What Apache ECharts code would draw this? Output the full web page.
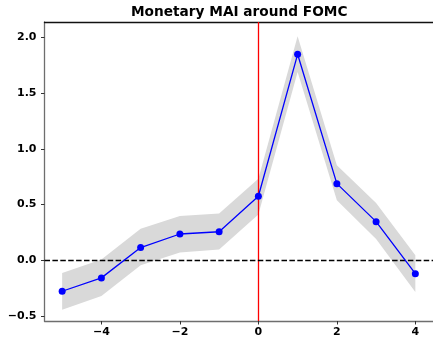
<!DOCTYPE html>
<html>
<head>
<meta charset="utf-8">
<script src="https://cdn.jsdelivr.net/npm/echarts@6/dist/echarts.min.js"></script>
<style>
  html, body { margin: 0; padding: 0; background: #fff; }
  #chart { width: 433px; height: 338px; }
</style>
</head>
<body>
<div id="chart"></div>
<script>
// Event window around the FOMC announcement (days relative to the meeting)
var days = [-5, -4, -3, -2, -1, 0, 1, 2, 3, 4];
// Mean monetary MAI response
var meanMAI = [-0.278, -0.158, 0.114, 0.236, 0.256, 0.575, 1.849, 0.688, 0.347, -0.12];
// Confidence band
var upperBand = [-0.114, 0.006, 0.284, 0.398, 0.419, 0.733, 2.01, 0.853, 0.515, 0.045];
var lowerBand = [-0.443, -0.32, -0.045, 0.069, 0.096, 0.41, 1.69, 0.539, 0.19, -0.285];
var xTicks = [-4, -2, 0, 2, 4];
var yTicks = [-0.5, 0.0, 0.5, 1.0, 1.5, 2.0];

var FONT = 'DejaVu Sans';
function fmtMinus(s) { return String(s).replace('-', '\u2212'); }

var chart = echarts.init(document.getElementById('chart'), null, { renderer: 'canvas' });

var option = {
  animation: false,
  backgroundColor: '#ffffff',
  graphic: [{
    type: 'text', left: 131, top: 5.5, z: 10, silent: true,
    style: { text: 'Monetary MAI around FOMC', font: 'bold 13.7px "DejaVu Sans"', fill: '#000' }
  }],
  grid: { left: 44.5, top: 22, width: 389.5, height: 299.5, containLabel: false },
  xAxis: [{
    type: 'value', min: -5.45, max: 4.45,
    axisLine: { show: true, onZero: false, lineStyle: { color: '#6e6e6e', width: 1.3 } },
    axisTick: { show: true, inside: false, length: 3.5, lineStyle: { color: '#333', width: 1 },
      customValues: xTicks },
    axisLabel: { show: true, margin: 6, fontFamily: FONT, fontWeight: 'bold', fontSize: 11, color: '#000',
      customValues: xTicks, formatter: function (v) { return fmtMinus(Math.round(v)); } },
    splitLine: { show: false }
  }, {
    type: 'value', position: 'top', min: -5.45, max: 4.45,
    axisLine: { show: true, onZero: false, lineStyle: { color: '#111', width: 1.3 } },
    axisTick: { show: false }, axisLabel: { show: false }, splitLine: { show: false }
  }],
  yAxis: [{
    type: 'value', min: -0.545, max: 2.139,
    axisLine: { show: true, onZero: false, lineStyle: { color: '#6e6e6e', width: 1.3 } },
    axisTick: { show: true, inside: false, length: 3.5, lineStyle: { color: '#333', width: 1 },
      customValues: yTicks },
    axisLabel: { show: true, margin: 8, fontFamily: FONT, fontWeight: 'bold', fontSize: 11, color: '#000',
      customValues: yTicks, formatter: function (v) { return fmtMinus(v.toFixed(1)); } },
    splitLine: { show: false }
  }],
  series: [
    {
      // shaded confidence band as one polygon
      type: 'custom',
      xAxisIndex: 0, yAxisIndex: 0,
      data: [[0]],
      silent: true,
      z: 1,
      renderItem: function (params, api) {
        var pts = [];
        for (var i = 0; i < days.length; i++) pts.push(api.coord([days[i], upperBand[i]]));
        for (var j = days.length - 1; j >= 0; j--) pts.push(api.coord([days[j], lowerBand[j]]));
        return { type: 'polygon', shape: { points: pts }, style: { fill: '#d9d9d9', stroke: null } };
      }
    },
    {
      type: 'line',
      xAxisIndex: 0, yAxisIndex: 0,
      data: days.map(function (d, i) { return [d, meanMAI[i]]; }),
      z: 5,
      lineStyle: { color: '#0000ff', width: 1.3 },
      itemStyle: { color: '#0000ff' },
      symbol: 'circle', symbolSize: 7, showSymbol: true,
      markLine: {
        silent: true, symbol: 'none', label: { show: false },
        data: [
          { xAxis: 0, lineStyle: { color: '#ff0000', width: 1.3, type: 'solid' } },
          { yAxis: 0, lineStyle: { color: '#000000', width: 1.3, type: [5.5, 2.4] } }
        ]
      }
    }
  ]
};
chart.setOption(option);
</script>
</body>
</html>
